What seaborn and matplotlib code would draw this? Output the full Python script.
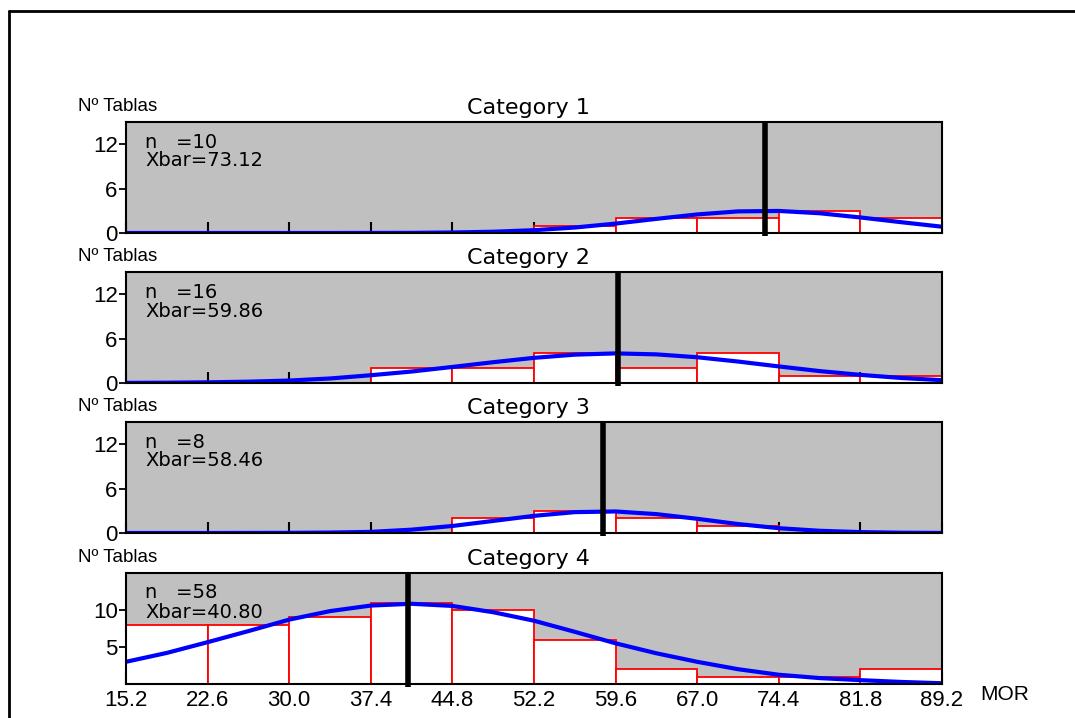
import matplotlib
matplotlib.use("Agg")
import matplotlib.pyplot as plt
import seaborn as sns
from matplotlib.lines import Line2D

# ---- data -------------------------------------------------------------
bin_edges = [15.2, 22.6, 30.0, 37.4, 44.8, 52.2, 59.6, 67.0, 74.4, 81.8, 89.2]
edge_labels = ["15.2", "22.6", "30.0", "37.4", "44.8", "52.2",
               "59.6", "67.0", "74.4", "81.8", "89.2"]

categories = ["Category 1", "Category 2", "Category 3", "Category 4"]
n_values = [10, 16, 8, 58]
xbar_values = [73.12, 59.86, 58.46, 40.80]

counts_cat1 = [0, 0, 0, 0, 0, 1, 2, 2, 3, 2]
counts_cat2 = [0, 0, 0, 2, 2, 4, 2, 4, 1, 1]
counts_cat3 = [0, 0, 0, 0, 2, 3, 2, 1, 0, 0]
counts_cat4 = [8, 8, 9, 11, 10, 6, 2, 1, 1, 2]

# fitted-distribution curve, sampled every half bin
curve_x = [15.2, 18.9, 22.6, 26.3, 30.0, 33.7, 37.4, 41.1, 44.8, 48.5, 52.2,
           55.9, 59.6, 63.3, 67.0, 70.7, 74.4, 78.1, 81.8, 85.5, 89.2]
curve_cat1 = [0.0, 0.0, 0.0, 0.0, 0.0, 0.0, 0.01, 0.02, 0.07, 0.17, 0.38,
              0.74, 1.27, 1.91, 2.51, 2.92, 2.98, 2.67, 2.10, 1.46, 0.85]
curve_cat2 = [0.02, 0.04, 0.09, 0.18, 0.33, 0.61, 1.05, 1.55, 2.17, 2.81, 3.40,
              3.83, 4.0, 3.87, 3.48, 2.90, 2.24, 1.61, 1.10, 0.68, 0.38]
curve_cat3 = [0.0, 0.0, 0.0, 0.01, 0.02, 0.06, 0.15, 0.45, 0.95, 1.63, 2.32,
              2.82, 2.91, 2.55, 1.92, 1.21, 0.65, 0.30, 0.12, 0.04, 0.01]
curve_cat4 = [3.0, 4.2, 5.65, 7.15, 8.7, 9.85, 10.6, 10.84, 10.55, 9.7, 8.55,
              7.05, 5.5, 4.15, 3.0, 2.0, 1.25, 0.8, 0.52, 0.28, 0.1]

y_ticks = [[0, 6, 12], [0, 6, 12], [0, 6, 12], [5, 10]]

counts_all = [counts_cat1, counts_cat2, counts_cat3, counts_cat4]
curves_all = [curve_cat1, curve_cat2, curve_cat3, curve_cat4]

# ---- styling ----------------------------------------------------------
sns.set_style("ticks")
plt.rcParams["font.family"] = ["Liberation Sans", "DejaVu Sans"]
plt.rcParams["axes.linewidth"] = 1.5
plt.rcParams["text.color"] = "black"
plt.rcParams["xtick.color"] = "black"
plt.rcParams["ytick.color"] = "black"
plt.rcParams["xtick.labelcolor"] = "black"
plt.rcParams["ytick.labelcolor"] = "black"
plt.rcParams["axes.labelcolor"] = "black"

W, H = 1075, 718
fig = plt.figure(figsize=(W / 100, H / 100), dpi=100)
fig.patch.set_facecolor("white")

# outer frame (top and left edges)
fx = 8.5 / W
fy = 1 - 11 / H
fig.add_artist(Line2D([fx, fx], [0, fy], transform=fig.transFigure,
                      color="black", lw=2))
fig.add_artist(Line2D([fx, 1], [fy, fy], transform=fig.transFigure,
                      color="black", lw=2))

left_px, right_px = 126, 942
panel_tops = [122, 272, 422, 573]
panel_h = 111
span = right_px - left_px

mids = [(a + b) / 2 for a, b in zip(bin_edges[:-1], bin_edges[1:])]

for i in range(4):
    top = panel_tops[i]
    ax = fig.add_axes([left_px / W, 1 - (top + panel_h) / H,
                       span / W, panel_h / H])
    ax.set_facecolor("#C0C0C0")

    sns.histplot(x=mids, weights=counts_all[i], bins=bin_edges, ax=ax,
                 stat="count", color="white", edgecolor="#FF0000",
                 linewidth=1.3, alpha=1, zorder=1)
    for p in ax.patches:
        if p.get_height() == 0:
            p.set_visible(False)

    sns.lineplot(x=curve_x, y=curves_all[i], ax=ax, color="#0000FF",
                 lw=3, zorder=3)

    xb = xbar_values[i]
    ax.plot([xb, xb], [-0.4, 15.1], color="black", lw=4, zorder=5,
            clip_on=False, solid_capstyle="butt")

    ax.set_xlim(bin_edges[0], bin_edges[-1])
    ax.set_ylim(0, 15)
    ax.set_xticks(bin_edges)
    ax.set_yticks(y_ticks[i])
    ax.tick_params(axis="x", direction="in", length=8, width=1.5,
                   color="black", labelcolor="black", labelsize=16, pad=4)
    ax.tick_params(axis="y", direction="out", length=5, width=1.3,
                   color="black", labelcolor="black", labelsize=16, pad=1)
    if i < 3:
        ax.set_xticklabels([])
    else:
        ax.set_xticklabels(edge_labels)
    ax.set_xlabel("")
    ax.set_ylabel("")
    for s in ax.spines.values():
        s.set_color("black")
        s.set_linewidth(1.5)
        s.set_zorder(6)

    # title and annotations
    ax.text(0.493, 1 + 8 / panel_h, categories[i], transform=ax.transAxes,
            ha="center", va="baseline", fontsize=16, family="DejaVu Sans",
            color="black")
    ax.text(-48 / span, 1 + 11 / panel_h, "Nº Tablas",
            transform=ax.transAxes, ha="left", va="baseline",
            fontsize=13.5, family="Liberation Sans", color="black")
    ax.text(19 / span, 1 - 20 / panel_h,
            f"n   ={n_values[i]}", transform=ax.transAxes,
            ha="left", va="center", fontsize=14, family="DejaVu Sans",
            color="black")
    ax.text(19 / span, 1 - 39 / panel_h,
            f"Xbar={xbar_values[i]:.2f}", transform=ax.transAxes,
            ha="left", va="center", fontsize=14, family="DejaVu Sans",
            color="black")

    if i == 3:
        ax.text(1 + 38 / span, -11 / panel_h, "MOR",
                transform=ax.transAxes, ha="left", va="center",
                fontsize=15, family="Liberation Sans", color="black")

fig.savefig("out.png", dpi=100, facecolor="white")
